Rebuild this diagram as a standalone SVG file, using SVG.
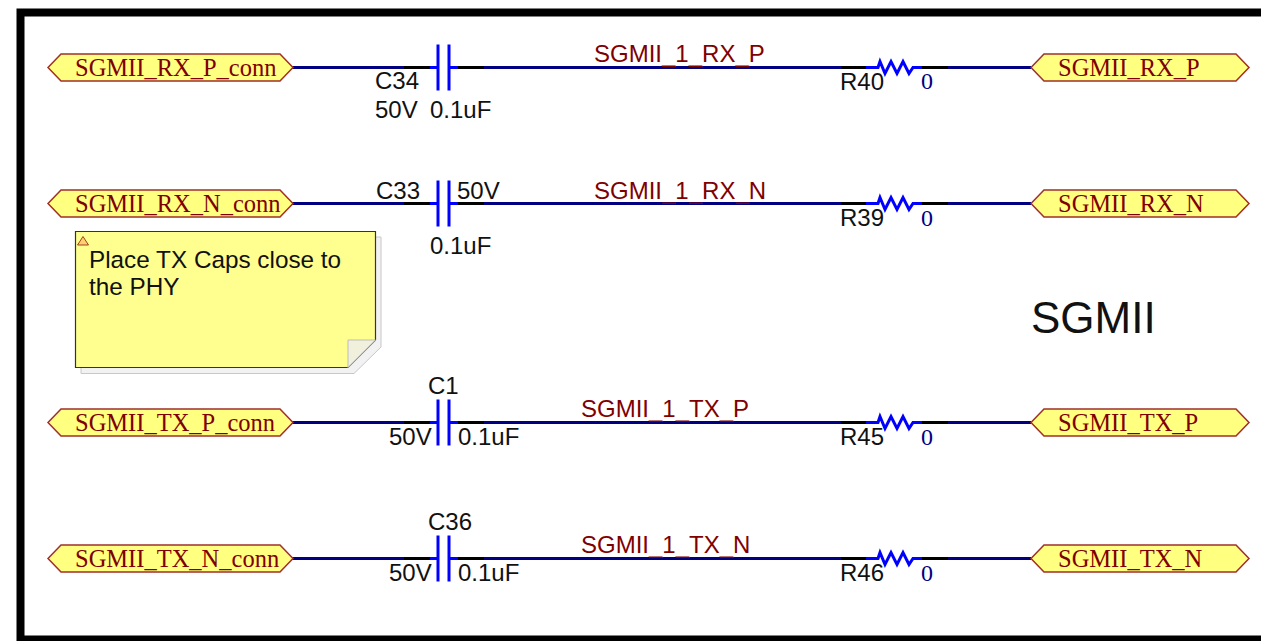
<svg xmlns="http://www.w3.org/2000/svg" width="1261" height="641" viewBox="0 0 1261 641">
<style>
text{font-family:"Liberation Sans",Arial,sans-serif;font-size:24px;fill:#111}
.port text{font-family:"Liberation Serif","Times New Roman",serif;font-size:24.500px;fill:#7f0000}
.pt{fill:#ffff80;stroke:#a03028;stroke-width:1.500}
.net{font-size:24px;fill:#7f0000}
.val{font-family:"Liberation Serif","Times New Roman",serif;font-size:24px;fill:#000080}
.w{stroke:#000080;stroke-width:3;fill:none}
.k{stroke:#000;stroke-width:3;fill:none}
.b{stroke:#0000ff;stroke-width:3;fill:none}
</style>
<defs>
<g id="cap"><path class="b" d="M430 0H438M449 0H458M438-23V23M449-23V23"/></g>
<g id="res"><path class="b" d="M866 0H878L880-6 885 6 891-6 897 6 903-6 909 6 913 0H922"/></g>
<path id="wires" d="M292 0H404M484 0H841M948 0H1031"/>
<path id="blk" d="M404 0H430M458 0H484M841 0H866M922 0H948"/>
<polygon id="pl" class="pt" points="48,0 61,-13.500 280,-13.500 293,0 280,13.500 61,13.500"/>
<polygon id="pr" class="pt" points="1031,0 1044,-13.500 1236,-13.500 1249,0 1236,13.500 1044,13.500"/>
</defs>
<rect width="1261" height="641" fill="#fff"/>
<path d="M20.500 641V12.500H1261M20.500 639.500H1261" fill="none" stroke="#000" stroke-width="8"/>
<g id="connectors">
<use href="#wires" y="67.500" class="w"/><use href="#blk" y="67.500" class="k"/>
<use href="#wires" y="203.500" class="w"/><use href="#blk" y="203.500" class="k"/>
<use href="#wires" y="422.500" class="w"/><use href="#blk" y="422.500" class="k"/>
<use href="#wires" y="558.500" class="w"/><use href="#blk" y="558.500" class="k"/>
<text class="net" x="594" y="62">SGMII_1_RX_P</text>
<text class="net" x="594" y="199">SGMII_1_RX_N</text>
<text class="net" x="581" y="417">SGMII_1_TX_P</text>
<text class="net" x="581" y="553">SGMII_1_TX_N</text>
</g>
<g id="port-rx-p-conn" class="port"><use href="#pl" y="67.500"/><text x="75" y="75.500">SGMII_RX_P_conn</text></g>
<g id="port-rx-n-conn" class="port"><use href="#pl" y="203.500"/><text x="75" y="212">SGMII_RX_N_conn</text></g>
<g id="port-tx-p-conn" class="port"><use href="#pl" y="422.500"/><text x="75" y="431">SGMII_TX_P_conn</text></g>
<g id="port-tx-n-conn" class="port"><use href="#pl" y="558.500"/><text x="75" y="567">SGMII_TX_N_conn</text></g>
<g id="port-rx-p" class="port"><use href="#pr" y="67.500"/><text x="1058" y="75.500">SGMII_RX_P</text></g>
<g id="port-rx-n" class="port"><use href="#pr" y="203.500"/><text x="1058" y="212">SGMII_RX_N</text></g>
<g id="port-tx-p" class="port"><use href="#pr" y="422.500"/><text x="1058" y="431">SGMII_TX_P</text></g>
<g id="port-tx-n" class="port"><use href="#pr" y="558.500"/><text x="1058" y="567">SGMII_TX_N</text></g>
<g id="C34"><use href="#cap" y="67.500"/><text x="375" y="89">C34</text><text x="375" y="118">50V</text><text x="430" y="118">0.1uF</text></g>
<g id="C33"><use href="#cap" y="203.500"/><text x="376" y="199">C33</text><text x="457" y="199">50V</text><text x="430" y="254">0.1uF</text></g>
<g id="C1"><use href="#cap" y="422.500"/><text x="428" y="394">C1</text><text x="389" y="445">50V</text><text x="458" y="445">0.1uF</text></g>
<g id="C36"><use href="#cap" y="558.500"/><text x="428" y="530">C36</text><text x="389" y="581">50V</text><text x="458" y="581">0.1uF</text></g>
<g id="R40"><use href="#res" y="67.500"/><text x="840" y="90">R40</text><text class="val" x="921" y="89">0</text></g>
<g id="R39"><use href="#res" y="203.500"/><text x="840" y="226">R39</text><text class="val" x="921" y="226">0</text></g>
<g id="R45"><use href="#res" y="422.500"/><text x="840" y="445">R45</text><text class="val" x="921" y="445">0</text></g>
<g id="R46"><use href="#res" y="558.500"/><text x="840" y="581">R46</text><text class="val" x="921" y="581">0</text></g>
<g id="note">
<polygon points="81,237 381,237 381,347 354,373.500 81,373.500" fill="#f2f2f2" stroke="#c8c8c8" stroke-width="1"/>
<polygon points="75.500,231.500 375.500,231.500 375.500,340 348,367.500 75.500,367.500" fill="#ffff90" stroke="#333" stroke-width="1.200"/>
<polygon points="348,340 375.500,340 348,367.500" fill="#f0f0dc" stroke="#bbb" stroke-width="1"/>
<polygon points="77.500,245 83,236.500 88.500,245" fill="#ffd070" stroke="#a04020" stroke-width="1"/>
<text x="89" y="268" style="font-size:24.300px">Place TX Caps close to</text>
<text x="89" y="295" style="font-size:24.300px">the PHY</text>
</g>
<text id="title" x="1031" y="333" style="font-size:44px">SGMII</text>
</svg>
